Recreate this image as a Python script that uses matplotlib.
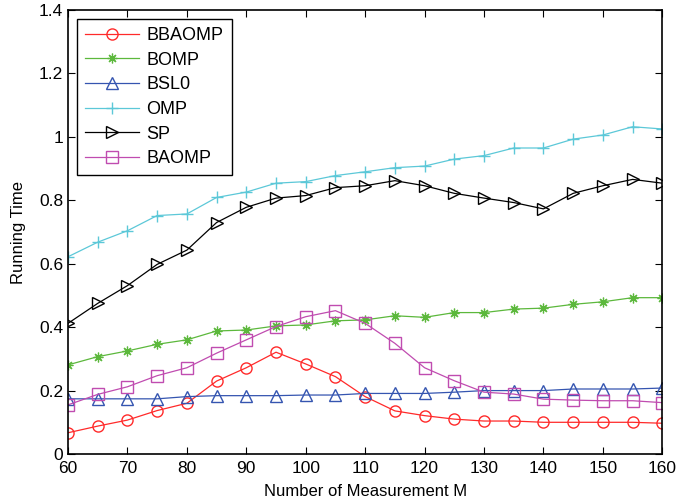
import matplotlib
matplotlib.use('Agg')
import matplotlib.pyplot as plt

plt.rcParams['font.family'] = ['Liberation Sans', 'DejaVu Sans']

M = [60, 65, 70, 75, 80, 85, 90, 95, 100, 105, 110, 115, 120, 125, 130, 135, 140, 145, 150, 155, 160]

bbaomp = [0.067, 0.088, 0.107, 0.137, 0.160, 0.230, 0.272, 0.321, 0.284, 0.244, 0.181,
          0.136, 0.121, 0.110, 0.104, 0.104, 0.100, 0.100, 0.100, 0.100, 0.097]
bomp = [0.281, 0.307, 0.325, 0.346, 0.360, 0.388, 0.391, 0.404, 0.407, 0.420, 0.423,
        0.436, 0.431, 0.446, 0.446, 0.457, 0.460, 0.472, 0.480, 0.493, 0.493]
bsl0 = [0.174, 0.174, 0.174, 0.174, 0.181, 0.184, 0.184, 0.184, 0.186, 0.186, 0.191,
        0.191, 0.191, 0.195, 0.200, 0.200, 0.200, 0.205, 0.205, 0.205, 0.208]
omp = [0.622, 0.668, 0.704, 0.752, 0.757, 0.809, 0.826, 0.854, 0.859, 0.878, 0.890,
       0.903, 0.908, 0.930, 0.941, 0.965, 0.965, 0.993, 1.006, 1.032, 1.025]
sp = [0.412, 0.475, 0.531, 0.598, 0.643, 0.730, 0.778, 0.807, 0.815, 0.840, 0.846,
      0.862, 0.846, 0.822, 0.807, 0.793, 0.773, 0.822, 0.846, 0.866, 0.854]
baomp = [0.155, 0.188, 0.212, 0.247, 0.272, 0.318, 0.360, 0.402, 0.433, 0.452, 0.412,
         0.349, 0.272, 0.231, 0.195, 0.189, 0.173, 0.170, 0.168, 0.168, 0.162]

fig = plt.figure(figsize=(6.8, 5.03), dpi=100)
ax = fig.add_axes([0.1, 0.0974, 0.874, 0.8826])

ms = 7
ax.plot(M, bbaomp, '-o', color='#ff2a2a', mfc='none', ms=ms + 1, lw=0.9, label='BBAOMP')
ax.plot(M, bomp, '-', marker=(8, 2, 0), color='#5cb83c', ms=ms, mew=0.9, lw=0.9, label='BOMP')
ax.plot(M, bsl0, '-^', color='#3555b0', mfc='none', ms=ms + 2, lw=0.9, label='BSL0')
ax.plot(M, omp, '-+', color='#5cc8d8', ms=ms + 2, lw=0.9, label='OMP')
ax.plot(M, sp, '->', color='black', mfc='none', ms=ms + 2, lw=0.9, label='SP')
ax.plot(M, baomp, '-s', color='#c04cb0', mfc='none', ms=ms + 2, lw=0.9, label='BAOMP')

ax.set_xlim(60, 160)
ax.set_ylim(0, 1.4)
ax.set_xticks(range(60, 161, 10))
ax.set_yticks([0, 0.2, 0.4, 0.6, 0.8, 1.0, 1.2, 1.4])
ax.set_yticklabels(['0', '0.2', '0.4', '0.6', '0.8', '1', '1.2', '1.4'])
ax.tick_params(direction='in', top=True, right=True, labelsize=12.5, length=5, width=0.8)
ax.tick_params(axis='x', pad=5)
for s in ax.spines.values():
    s.set_linewidth(1.2)

ax.set_xlabel('Number of Measurement M', fontsize=12, labelpad=6)
ax.set_ylabel('Running Time', fontsize=12, labelpad=9)

leg = ax.legend(loc='upper left', fontsize=13, handlelength=3.0, fancybox=False,
                framealpha=1, edgecolor='black', borderaxespad=0.5, labelspacing=0.42,
                borderpad=0.45, handletextpad=0.4)
leg.get_frame().set_linewidth(1.0)

fig.savefig('out.png', dpi=100)
